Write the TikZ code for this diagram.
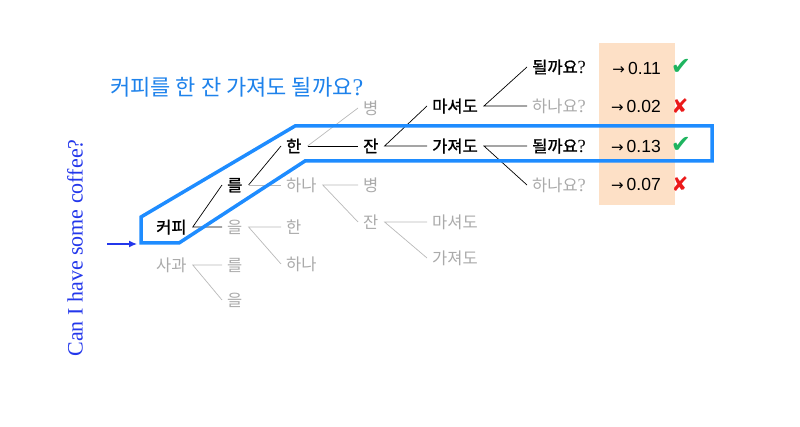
\documentclass[tikz,border=0pt]{standalone}
\usepackage{fontspec}
\newfontfamily\kr{Noto Sans CJK KR}
\newfontfamily\krb[FakeBold=1.2]{Noto Sans CJK KR}
\newfontfamily\numf{Liberation Sans}
\newfontfamily\serf{Liberation Serif}
\newfontfamily\symf{DejaVu Sans}
\usetikzlibrary{arrows.meta}
\definecolor{boxblue}{RGB}{30,140,255}
\definecolor{titleblue}{RGB}{30,130,235}
\definecolor{engblue}{RGB}{35,55,235}
\definecolor{peach}{RGB}{253,224,198}
\definecolor{txtgray}{RGB}{170,170,170}
\definecolor{linegray}{RGB}{185,185,185}
\definecolor{okgreen}{RGB}{30,180,95}
\definecolor{badred}{RGB}{235,25,25}
\begin{document}
\begin{tikzpicture}[x=1pt,y=-1pt,
  w/.style={anchor=west,inner sep=0pt,text height=12.5pt,text depth=0pt},
  on/.style={w,font=\krb\fontsize{16.5}{16.5}\selectfont,text=black},
  off/.style={w,font=\kr\fontsize{16.5}{16.5}\selectfont,text=txtgray},
  bl/.style={draw=black,line width=0.7pt},
  gl/.style={draw=linegray,line width=0.7pt},
  prob/.style={anchor=east,inner sep=0pt,font=\numf\fontsize{17.5}{17.5}\selectfont,text=black},
  ok/.style={inner sep=0pt,font=\symf\fontsize{24}{24}\selectfont,text=okgreen},
  bad/.style={inner sep=0pt,font=\symf\fontsize{20}{20}\selectfont,text=badred},
  pathbox/.style={draw=boxblue,line width=3.5pt,line join=miter},
]
\useasboundingbox (0,0) rectangle (800,427);
\def\q{{\serf\fontsize{18.5}{18.5}\selectfont ?}}
\def\ar{{\symf\fontsize{15}{15}\selectfont →}\hspace{3pt}}
% peach column
\fill[peach] (599,43) rectangle (675,205);

% title and English
\node[anchor=west,inner sep=0pt,font=\kr\fontsize{22}{22}\selectfont,text height=16.7pt,text depth=0pt,text=titleblue] (title) at (110,87) {커피를 한 잔 가져도 될까요{\serf\fontsize{24}{24}\selectfont ?}};
\node[rotate=90,inner sep=0pt,font=\serf\fontsize{22}{22}\selectfont,text=engblue] (eng) at (75,248) {Can I have some coffee?};

% tree nodes
\node[on]  (kopi)   at (156,227) {커피};
\node[off] (sagwa)  at (156,265) {사과};
\node[on]  (reulA)  at (227,185) {를};
\node[off] (eulA)   at (227,227) {을};
\node[off] (reulB)  at (227,265) {를};
\node[off] (eulB)   at (227,300) {을};
\node[on]  (hanA)   at (286,146) {한};
\node[off] (hanaA)  at (286,185) {하나};
\node[off] (hanB)   at (286,227) {한};
\node[off] (hanaB)  at (286,264) {하나};
\node[off] (byA)    at (363,108) {병};
\node[on]  (janA)   at (363,146) {잔};
\node[off] (byB)    at (363,185) {병};
\node[off] (janB)   at (363,222) {잔};
\node[on]  (maA)    at (432,106) {마셔도};
\node[on]  (gaA)    at (432,146) {가져도};
\node[off] (maB)    at (432,222) {마셔도};
\node[off] (gaB)    at (432,258) {가져도};
\node[on]  (dwA)    at (532,67)  {될까요\q};
\node[off] (hyA)    at (532,106) {하나요\q};
\node[on]  (dwB)    at (532,146) {될까요\q};
\node[off] (hyB)    at (532,185) {하나요\q};

% connectors
\draw[bl] ([xshift=-5pt]reulA.west) -- ([xshift=6pt]kopi.east) -- ([xshift=-5pt]eulA.west);
\draw[gl] ([xshift=-5pt]reulB.west) -- ([xshift=6pt]sagwa.east) -- ([xshift=-5pt]eulB.west);
\draw[bl] ([xshift=-5pt]hanA.west) -- ([xshift=6pt]reulA.east);
\draw[gl] ([xshift=6pt]reulA.east) -- ([xshift=-5pt]hanaA.west);
\draw[gl] ([xshift=-5pt]hanB.west) -- ([xshift=6pt]eulA.east) -- ([xshift=-5pt]hanaB.west);
\draw[gl] ([xshift=-5pt]byA.west) -- ([xshift=6pt]hanA.east);
\draw[bl] ([xshift=6pt]hanA.east) -- ([xshift=-5pt]janA.west);
\draw[gl] ([xshift=-5pt]byB.west) -- ([xshift=6pt]hanaA.east) -- ([xshift=-5pt]janB.west);
\draw[bl] ([xshift=-5pt]maA.west) -- ([xshift=6pt]janA.east) -- ([xshift=-5pt]gaA.west);
\draw[gl] ([xshift=-5pt]maB.west) -- ([xshift=6pt]janB.east) -- ([xshift=-5pt]gaB.west);
\draw[bl] ([xshift=-5pt]dwA.west) -- ([xshift=6pt]maA.east) -- ([xshift=-5pt]hyA.west);
\draw[bl] ([xshift=-5pt]dwB.west) -- ([xshift=6pt]gaA.east) -- ([xshift=-5pt]hyB.west);

% probabilities
\node[prob] (p1) at (661,68)  {\ar 0.11};
\node[prob] (p2) at (661,106) {\ar 0.02};
\node[prob] (p3) at (661,146) {\ar 0.13};
\node[prob] (p4) at (661,184) {\ar 0.07};
\node[ok]  (m1) at (681,67)  {✔};
\node[bad] (m2) at (680,106) {✘};
\node[ok]  (m3) at (681,145) {✔};
\node[bad] (m4) at (680,184) {✘};

% highlighted path
\draw[pathbox] (141,217) -- (295,126) -- (712,126) -- (712,161) -- (305,161) -- (179,243) -- (141,243) -- cycle;

% input arrow
\coordinate (arrS) at (107,244);
\coordinate (arrE) at (137,244);
\draw[engblue,line width=1.3pt,-{Latex[length=8pt,width=7pt]}] (arrS) -- (arrE);
\end{tikzpicture}
\end{document}
